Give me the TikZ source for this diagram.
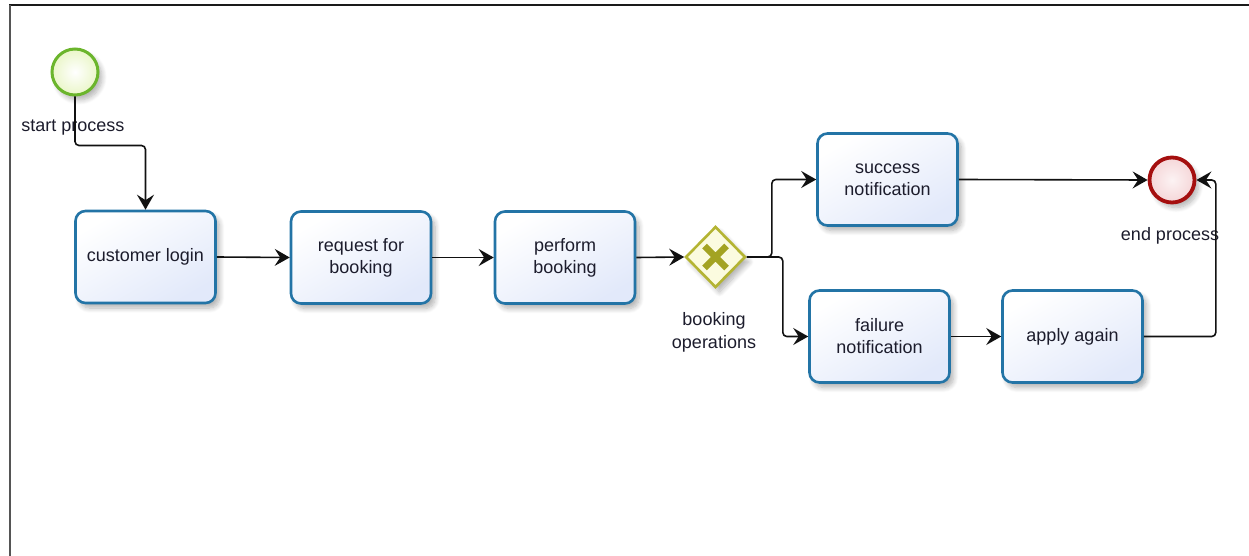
\documentclass[tikz,border=0pt]{standalone}
\usepackage{fontspec}
\setmainfont{Liberation Sans}
\usetikzlibrary{arrows.meta,shapes.geometric,shadows.blur,calc}

\definecolor{framecol}{HTML}{1A1A1A}
\definecolor{framegray}{HTML}{555555}
\definecolor{taskborder}{HTML}{2374A6}
\definecolor{taskfill}{HTML}{E2E9FA}
\definecolor{startborder}{HTML}{6BB52C}
\definecolor{startfill}{HTML}{EAF6C8}
\definecolor{endborder}{HTML}{A50F0F}
\definecolor{endfill}{HTML}{F5D6D8}
\definecolor{gwborder}{HTML}{B4B433}
\definecolor{gwfill}{HTML}{FBFBDF}
\definecolor{gwmark}{HTML}{A3A322}
\definecolor{textcol}{HTML}{1C1C2C}
\definecolor{flowcol}{HTML}{111111}

\newcommand{\diagfont}{\fontsize{18}{22}\selectfont}

\tikzset{
  softshadow/.style={blur shadow={shadow xshift=4pt, shadow yshift=-5pt,
      shadow blur steps=8, shadow blur radius=5pt, shadow opacity=30}},
  task/.style={draw=taskborder, line width=2.6pt, rounded corners=10pt,
      top color=white, bottom color=taskfill, shading angle=30,
      minimum width=140pt, minimum height=92pt, align=center,
      font=\diagfont, text=textcol, softshadow},
  startev/.style={circle, draw=startborder, line width=3pt,
      inner color=white, outer color=startfill,
      minimum size=46pt, inner sep=0pt, softshadow},
  endev/.style={circle, draw=endborder, line width=3.8pt,
      inner color=white!70!endfill, outer color=endfill,
      minimum size=45pt, inner sep=0pt, softshadow},
  gateway/.style={diamond, draw=gwborder, line width=2.6pt, fill=gwfill,
      minimum width=60pt, minimum height=61pt, inner sep=0pt, softshadow},
  evlabel/.style={font=\diagfont, text=textcol, align=center, inner sep=0pt},
  flow/.style={draw=flowcol, line width=1.6pt, rounded corners=4pt,
      -{Stealth[length=15pt, width=17pt, inset=5.5pt]}},
}

\begin{document}
\begin{tikzpicture}[x=1pt, y=-1pt]
  \useasboundingbox (0,0) rectangle (1249,556);

  % canvas edges
  \draw[framecol, line width=2pt] (9,5) -- (1249,5);
  \draw[framegray, line width=2.2pt] (10,5) -- (10,556);

  % events and gateway
  \node[startev] (start) at (75,72) {};
  \node[evlabel, anchor=base] (startlbl) at (73,132) {start process};

  \node[endev] (end) at (1172,180) {};
  \node[evlabel, anchor=base] (endlbl) at (1170,240) {end process};

  \node[gateway] (gw) at (715.5,257) {};
  \draw[gwmark, line width=6.5pt]
    ($(gw.center)+(-11,-11)$) -- ($(gw.center)+(11,11)$)
    ($(gw.center)+(-11,11)$) -- ($(gw.center)+(11,-11)$);
  \node[evlabel, anchor=base] (gwlbl) at (714,348) {booking\\[1pt]operations};

  % tasks
  \node[task] (login)  at (145.5,257) {customer login};
  \node[task] (req)    at (361,257.5) {request for\\booking};
  \node[task] (perf)   at (565,257.5) {perform\\booking};
  \node[task] (succ)   at (887.5,179.5) {success\\notification};
  \node[task] (fail)   at (879.5,336.5) {failure\\notification};
  \node[task] (apply)  at (1072.5,336.5) {apply again};

  % sequence flows
  \draw[flow] (start.south) -- ++(0,49) -| (login.north);
  \draw[flow] (login.east) -- (req.west);
  \draw[flow] (req.east) -- (perf.west);
  \draw[flow] (perf.east) -- (gw.west);
  \draw[flow] (gw.east) -- ++(25,0) |- (succ.west);
  \draw[flow] (gw.east) -- ++(36,0) |- (fail.west);
  \draw[flow] (succ.east) -- (end.west);
  \draw[flow] (fail.east) -- (apply.west);
  \draw[flow] (apply.east) -- ++(72,0) |- (end.east);
\end{tikzpicture}
\end{document}
